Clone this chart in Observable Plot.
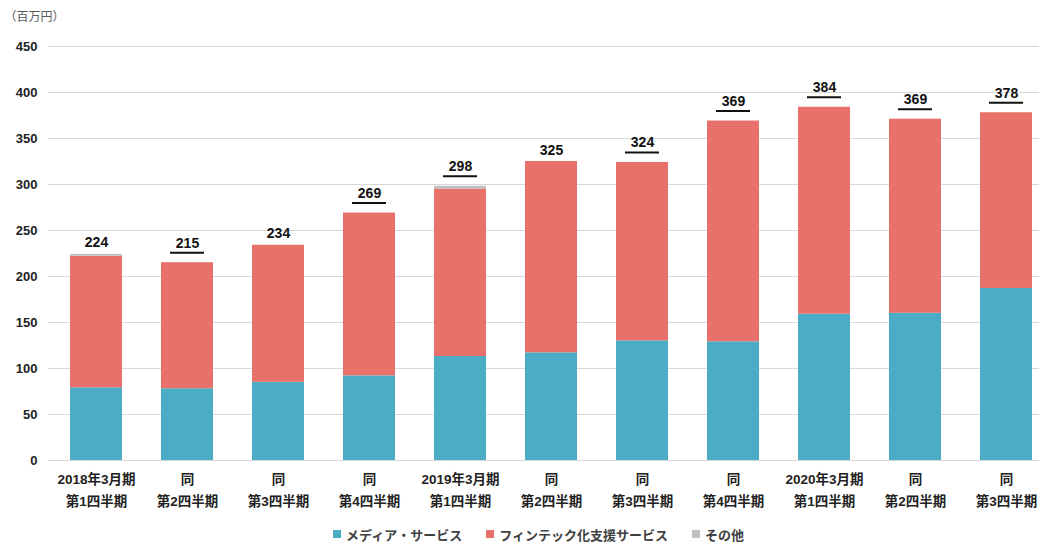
<!DOCTYPE html>
<html>
<head>
<meta charset="utf-8">
<script src="https://cdn.jsdelivr.net/npm/d3@7"></script>
<script src="https://cdn.jsdelivr.net/npm/@observablehq/plot@0.6"></script>
<style>
  html, body { margin: 0; padding: 0; background: #fff; }
  body { width: 1039px; height: 542px; overflow: hidden; font-family: "Liberation Sans", "Noto Sans CJK JP", sans-serif; }
  #legend { display: flex; justify-content: center; align-items: center; height: 22px; margin-top: 3px; margin-left: 38px; font-size: 13px; font-weight: bold; color: #404040; }
  .item { display: flex; align-items: center; margin: 0 12px; }
  .sw { width: 8px; height: 8px; margin-right: 5px; }
</style>
</head>
<body>
<div id="chart"></div>
<div id="legend"></div>
<script>
const categories = ["FY18Q1", "FY18Q2", "FY18Q3", "FY18Q4", "FY19Q1", "FY19Q2", "FY19Q3", "FY19Q4", "FY20Q1", "FY20Q2", "FY20Q3"];
const tickLabels = [
  "2018年3月期\n第1四半期", "同\n第2四半期", "同\n第3四半期", "同\n第4四半期",
  "2019年3月期\n第1四半期", "同\n第2四半期", "同\n第3四半期", "同\n第4四半期",
  "2020年3月期\n第1四半期", "同\n第2四半期", "同\n第3四半期"
];
const seriesNames = ["メディア・サービス", "フィンテック化支援サービス", "その他"];
const seriesColors = ["#4BACC6", "#E8716B", "#BFBFBF"];
const media   = [79, 78, 85, 92, 113, 117, 130, 129, 159, 160, 187];
const fintech = [143, 137, 149, 177, 182, 208, 194, 240, 225, 211, 191];
const other   = [2, 0, 0, 0, 3, 0, 0, 0, 0, 0, 0];
const totalLabels = [224, 215, 234, 269, 298, 325, 324, 369, 384, 369, 378];
const underlined = [false, true, false, true, true, false, true, true, true, true, true];
const yTicks = [0, 50, 100, 150, 200, 250, 300, 350, 400, 450];
const unitLabel = "（百万円）";

const valuesBySeries = [media, fintech, other];
const rows = categories.flatMap((c, i) =>
  seriesNames.map((s, k) => ({cat: c, series: s, value: valuesBySeries[k][i]})));
const tops = categories.map((c, i) => ({
  cat: c, top: media[i] + fintech[i] + other[i], label: String(totalLabels[i]), u: underlined[i]
}));

const font = "'Liberation Sans', 'Noto Sans CJK JP', sans-serif";
const chart = Plot.plot({
  width: 1039, height: 520,
  marginLeft: 48, marginRight: 0, marginTop: 46, marginBottom: 60,
  style: {fontFamily: font, background: "white", overflow: "visible"},
  x: {domain: categories, paddingInner: 0.43, paddingOuter: 0.154, align: 0.75, label: null},
  y: {domain: [0, 450], label: null},
  color: {domain: seriesNames, range: seriesColors},
  marks: [
    Plot.gridY(yTicks, {stroke: "#d9d9d9", strokeOpacity: 1, strokeWidth: 1}),
    Plot.axisY(yTicks, {tickSize: 0, tickPadding: 11, fontSize: 13, fontWeight: "bold", fill: "#222", label: null}),
    Plot.axisX({tickSize: 0, tickPadding: 8, fontSize: 13.5, fontWeight: "bold", lineHeight: 1.63, fill: "#222", label: null,
      tickFormat: c => tickLabels[categories.indexOf(c)]}),
    Plot.barY(rows, {x: "cat", y: "value", fill: "series"}),
    Plot.text(tops.filter(d => !d.u), {x: "cat", y: "top", text: "label", lineAnchor: "bottom", dy: -7, fontSize: 14, fontWeight: "bold", fill: "#111"}),
    Plot.text(tops.filter(d => d.u), {x: "cat", y: "top", text: "label", lineAnchor: "bottom", dy: -15, fontSize: 14, fontWeight: "bold", fill: "#111"}),
    Plot.tickY(tops.filter(d => d.u), {x: "cat", y: "top", dy: -10, stroke: "#111", strokeWidth: 2, insetLeft: 9, insetRight: 9}),
    Plot.text([unitLabel], {text: d => d, frameAnchor: "top-left", textAnchor: "start", lineAnchor: "middle", dx: -44, dy: -29, fontSize: 12, fill: "#595959"})
  ]
});
document.getElementById("chart").appendChild(chart);

const legend = document.getElementById("legend");
seriesNames.forEach((s, k) => {
  const item = document.createElement("div");
  item.className = "item";
  const sw = document.createElement("span");
  sw.className = "sw";
  sw.style.background = seriesColors[k];
  const t = document.createElement("span");
  t.textContent = s;
  item.appendChild(sw);
  item.appendChild(t);
  legend.appendChild(item);
});
</script>
</body>
</html>
